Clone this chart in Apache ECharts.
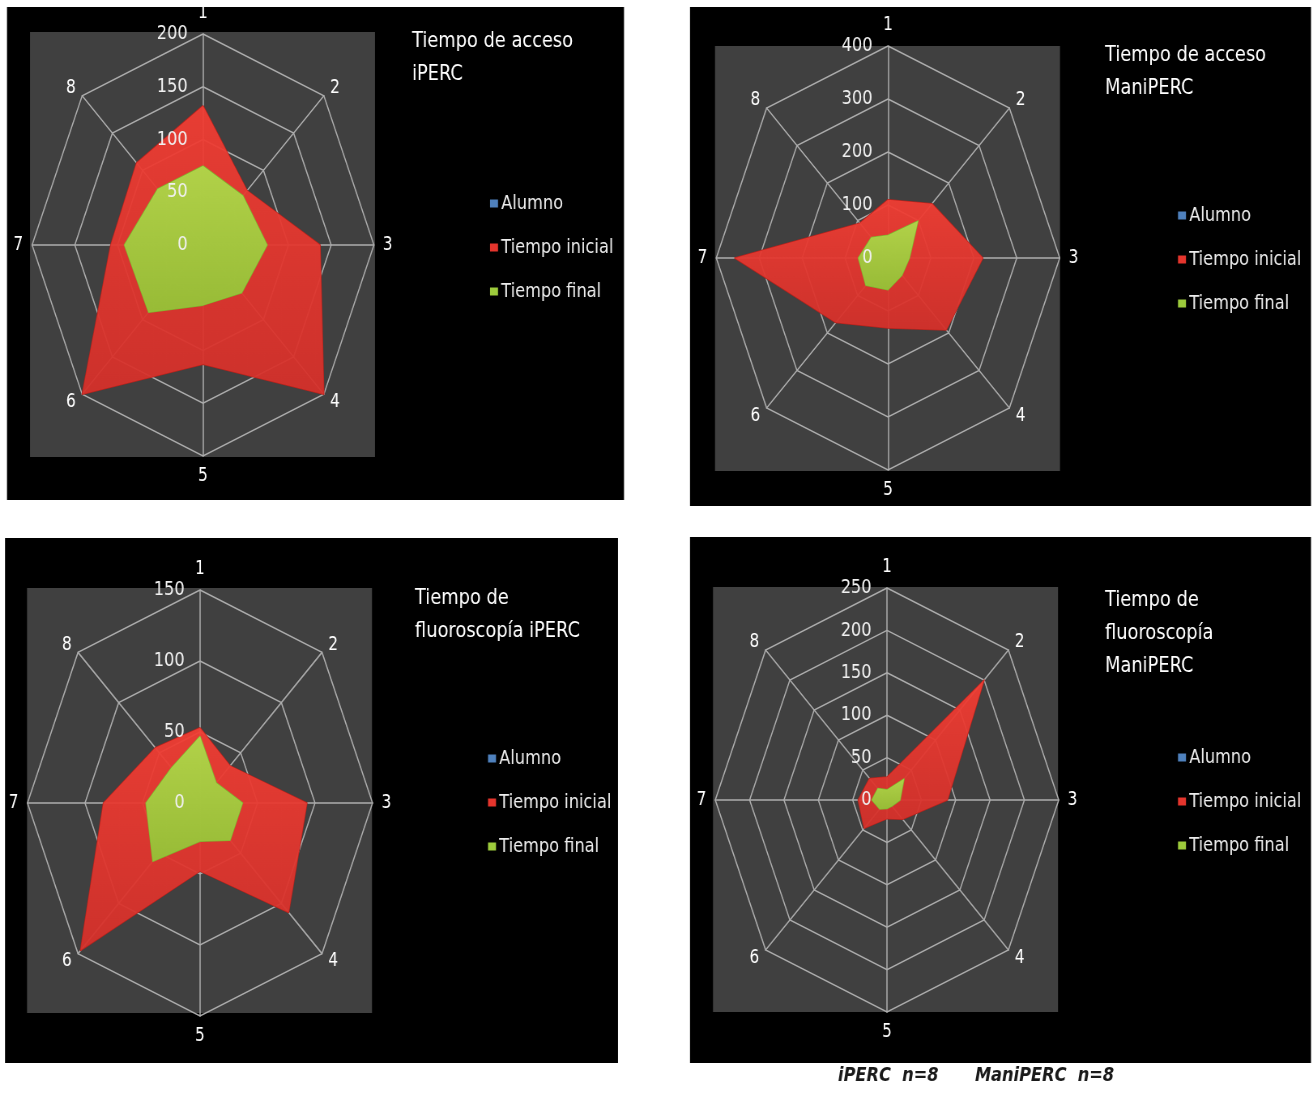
<!DOCTYPE html>
<html>
<head>
<meta charset="utf-8">
<script src="https://cdn.jsdelivr.net/npm/echarts@6/dist/echarts.min.js"></script>
<style>
  html, body { margin: 0; padding: 0; background: #ffffff; overflow: hidden; }
  #wrap { width: 1314px; height: 1093px; overflow: hidden; position: relative; }
  #chart { width: 1622px; height: 1093px; transform: scaleX(0.81); transform-origin: 0 0; }
</style>
</head>
<body>
<div id="wrap"><div id="chart"></div></div>
<script>
// ---- data ----
const categories = ['1', '2', '3', '4', '5', '6', '7', '8'];
const seriesNames = ['Alumno', 'Tiempo inicial', 'Tiempo final'];

// Tiempo de acceso iPERC
const accesoIpercMax = 200;
const accesoIpercInicial = [132, 73, 137, 200, 113, 200, 108, 110];
const accesoIpercFinal   = [75, 66, 75, 64, 57, 90, 92, 75];

// Tiempo de acceso ManiPERC
const accesoManiMax = 400;
const accesoManiInicial = [110, 145, 221, 192, 132, 172, 357, 93];
const accesoManiFinal   = [43, 99, 50, 46, 60, 73, 69, 55];

// Tiempo de fluoroscopía iPERC
const fluoroIpercMax = 150;
const fluoroIpercInicial = [53, 37, 93, 109, 48, 147, 84, 55];
const fluoroIpercFinal   = [47, 20, 37, 37, 27, 58, 47, 35];

// Tiempo de fluoroscopía ManiPERC
const fluoroManiMax = 250;
const fluoroManiInicial = [27, 200, 88, 32, 22, 47, 42, 36];
const fluoroManiFinal   = [12, 35, 19, 10, 10, 15, 22, 19];

// Alumno series: not visible in the picture
const alumno = [null, null, null, null, null, null, null, null];

const titles = [
  'Tiempo de acceso\niPERC',
  'Tiempo de acceso\nManiPERC',
  'Tiempo de\nfluoroscopía iPERC',
  'Tiempo de\nfluoroscopía\nManiPERC'
];
const footerLeft = 'iPERC  n=8';
const footerRight = 'ManiPERC  n=8';

// ECharts lays radar indicators out counter-clockwise; the reference runs clockwise,
// so the indicators (and their values, identically) are listed in this order.
const displayOrder = [0, 7, 6, 5, 4, 3, 2, 1];
const ordered = arr => displayOrder.map(i => arr[i]);

// ---- layout (chart coords; chart is scaled 0.81 horizontally) ----
const S = 0.81;
const X = v => v / S;
const FONT = 'DejaVu Sans';

const panels = [
  { max: accesoIpercMax, split: 4, ini: accesoIpercInicial, fin: accesoIpercFinal,
    center: [X(203), 245], r: 211,
    black: [7, 7, 624, 500], gray: [30, 32, 375, 457],
    title: [412, 25], legend: [490, 193] },
  { max: accesoManiMax, split: 4, ini: accesoManiInicial, fin: accesoManiFinal,
    center: [X(888), 258], r: 212,
    black: [690, 7, 1311, 506], gray: [715, 46, 1060, 471],
    title: [1105, 39], legend: [1178, 205] },
  { max: fluoroIpercMax, split: 3, ini: fluoroIpercInicial, fin: fluoroIpercFinal,
    center: [X(200), 803], r: 213,
    black: [5, 538, 618, 1063], gray: [27, 588, 372, 1013],
    title: [415, 582], legend: [488, 748] },
  { max: fluoroManiMax, split: 5, ini: fluoroManiInicial, fin: fluoroManiFinal,
    center: [X(887), 800], r: 212,
    black: [690, 537, 1311, 1063], gray: [713, 587, 1058, 1012],
    title: [1105, 584], legend: [1178, 747] }
];

const RED = '#E5352D';
const GREEN = '#9DCB3C';
const BLUE = '#4F81BD';
const LINE = '#ADADAD';

const graphic = [];
panels.forEach(p => {
  graphic.push({ type: 'rect', z: -10, silent: true,
    shape: { x: X(p.black[0]), y: p.black[1], width: X(p.black[2] - p.black[0]), height: p.black[3] - p.black[1] },
    style: { fill: '#000000' } });
  graphic.push({ type: 'rect', z: -9, silent: true,
    shape: { x: X(p.gray[0]), y: p.gray[1], width: X(p.gray[2] - p.gray[0]), height: p.gray[3] - p.gray[1] },
    style: { fill: '#404040' } });
});

const indicatorsFor = (p, withLabel) => ordered(categories).map((c, i) => (i === 0 && withLabel)
  ? { name: c, max: p.max, min: 0, axisLabel: { show: true } }
  : { name: c, max: p.max, min: 0 });

// grid radars (below the areas)
const radar = panels.map(p => ({
  center: p.center,
  radius: p.r,
  shape: 'polygon',
  startAngle: 90,
  splitNumber: p.split,
  indicator: indicatorsFor(p, false),
  axisName: { color: '#FFFFFF', fontSize: 19, fontFamily: FONT },
  nameGap: 11,
  axisLine: { lineStyle: { color: LINE, width: 1.5 } },
  splitLine: { lineStyle: { color: LINE, width: 1.5 } },
  splitArea: { show: false },
  axisTick: { show: false },
  axisLabel: { show: false }
}));
// label radars (same geometry, above the areas, only the tick labels of axis 1)
panels.forEach(p => {
  radar.push({
    z: 5,
    center: p.center,
    radius: p.r,
    shape: 'polygon',
    startAngle: 90,
    splitNumber: p.split,
    indicator: indicatorsFor(p, true),
    axisName: { show: false },
    axisLine: { show: false },
    splitLine: { show: false },
    splitArea: { show: false },
    axisTick: { show: false },
    axisLabel: { show: false, color: '#F0F0F0', fontSize: 20, fontFamily: FONT, margin: 19,
                 showMinLabel: true, showMaxLabel: true }
  });
});

const toVal = arr => arr.map(v => v == null ? '-' : v);

const series = panels.map((p, k) => ({
  type: 'radar',
  radarIndex: k,
  symbol: 'none',
  silent: true,
  data: [
    { name: seriesNames[0], value: ordered(toVal(alumno)),
      itemStyle: { color: BLUE }, lineStyle: { color: BLUE, width: 0 } },
    { name: seriesNames[1], value: ordered(p.ini),
      itemStyle: { color: RED },
      lineStyle: { color: '#B3241E', width: 1.5 },
      areaStyle: { opacity: 0.94, color: {
        type: 'linear', x: 0, y: 0, x2: 0, y2: 1,
        colorStops: [{ offset: 0, color: '#F23D33' }, { offset: 1, color: '#D6302A' }] } } },
    { name: seriesNames[2], value: ordered(p.fin),
      itemStyle: { color: GREEN },
      lineStyle: { color: '#86B02F', width: 1.5 },
      areaStyle: { opacity: 0.94, color: {
        type: 'linear', x: 0, y: 0, x2: 0, y2: 1,
        colorStops: [{ offset: 0, color: '#AEDB4A' }, { offset: 1, color: '#94C437' }] } } }
  ]
}));

const title = panels.map((p, k) => ({
  text: titles[k],
  left: X(p.title[0]),
  top: p.title[1],
  padding: 0,
  textStyle: { color: '#FFFFFF', fontSize: 22, fontWeight: 'normal', fontFamily: FONT, lineHeight: 33 }
}));
const footStyle = { color: '#1A1A1A', fontSize: 20, fontWeight: 'bold', fontStyle: 'italic', fontFamily: FONT };
title.push({ text: footerLeft, left: X(838), top: 1066, padding: 0, textStyle: footStyle });
title.push({ text: footerRight, left: X(975), top: 1066, padding: 0, textStyle: footStyle });

const legend = panels.map(p => ({
  data: seriesNames,
  orient: 'vertical',
  left: X(p.legend[0]),
  top: p.legend[1],
  padding: 0,
  icon: 'rect',
  itemWidth: X(8),
  itemHeight: 8,
  itemGap: 23,
  selectedMode: false,
  textStyle: { color: '#EDEDED', fontSize: 20, fontFamily: FONT, lineHeight: 21, padding: [0, 0, 0, -1] }
}));

const chart = echarts.init(document.getElementById('chart'), null, { renderer: 'canvas' });
chart.setOption({
  backgroundColor: '#FFFFFF',
  animation: false,
  graphic: graphic,
  title: title,
  legend: legend,
  radar: radar,
  series: series
});
</script>
</body>
</html>
